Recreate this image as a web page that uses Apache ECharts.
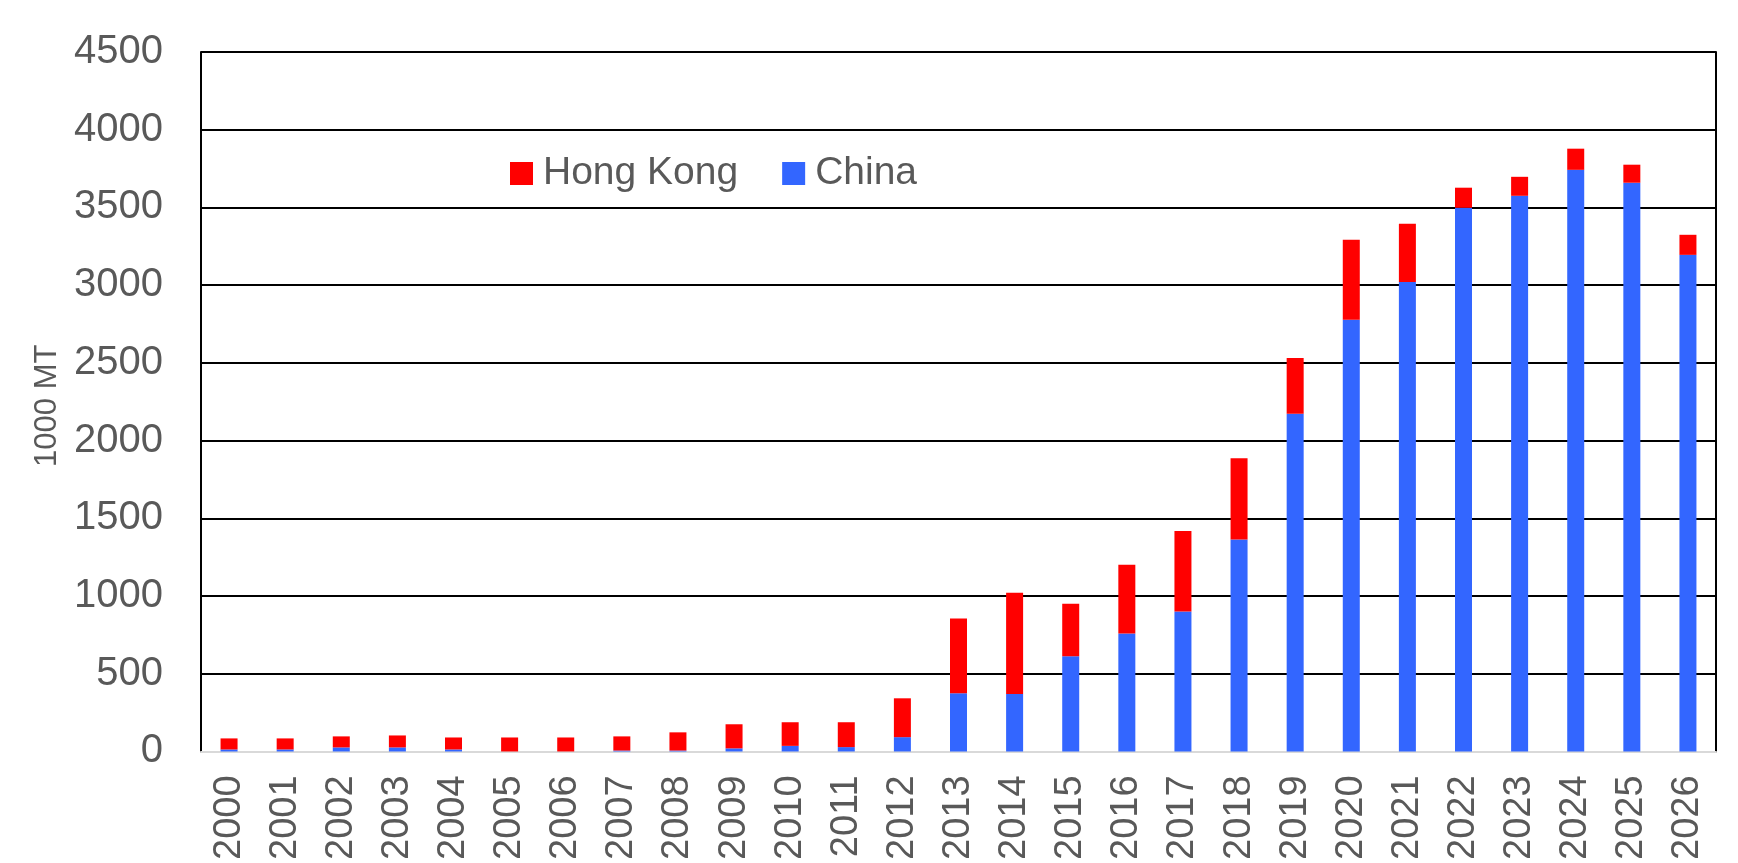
<!DOCTYPE html>
<html>
<head>
<meta charset="utf-8">
<script src="https://cdn.jsdelivr.net/npm/echarts@6/dist/echarts.min.js"></script>
<style>
  html, body { margin: 0; padding: 0; background: #fff; }
  #chart { width: 1738px; height: 863px; }
</style>
</head>
<body>
<div id="chart"></div>
<script>
const years = ['2000', '2001', '2002', '2003', '2004', '2005', '2006', '2007', '2008', '2009',
    '2010', '2011', '2012', '2013', '2014', '2015', '2016', '2017', '2018', '2019',
    '2020', '2021', '2022', '2023', '2024', '2025', '2026']
// values in 1000 MT
const china = [13, 13, 26, 26, 13, 0, 0, 6, 6, 20,
    36, 28, 92, 374, 370, 613, 759, 900, 1363, 2172,
    2777, 3021, 3498, 3575, 3742, 3659, 3195]
const hongKong = [71, 71, 71, 77, 77, 90, 90, 91, 117, 155,
    152, 160, 250, 481, 651, 338, 442, 519, 524, 360,
    515, 374, 129, 122, 136, 116, 129]

const font = 'Liberation Sans, Arial, sans-serif'
const grey = '#595959'

const chart = echarts.init(document.getElementById('chart'))
chart.setOption({
    backgroundColor: '#fff',
    animation: false,
    grid: { left: 201, right: 22, top: 52, bottom: 109 },
    legend: {
        data: ['Hong Kong', 'China'],
        left: 510,
        top: 154,
        padding: 0,
        itemWidth: 23,
        itemHeight: 23,
        itemGap: 44,
        icon: 'rect',
        textStyle: {
            fontFamily: font,
            fontSize: 39,
            lineHeight: 39,
            color: grey,
            padding: [0, 0, 0, 5]
        }
    },
    xAxis: {
        type: 'category',
        data: years,
        axisTick: { show: false },
        axisLine: { lineStyle: { color: '#d9d9d9', width: 2 } },
        axisLabel: {
            rotate: 90,
            interval: 0,
            margin: 24,
            fontFamily: font,
            fontSize: 38,
            color: grey
        }
    },
    yAxis: [
        {
            type: 'value',
            min: 0,
            max: 4500,
            interval: 500,
            name: '1000 MT',
            nameLocation: 'middle',
            nameRotate: 90,
            nameGap: 138,
            nameTextStyle: { fontFamily: font, fontSize: 31, color: grey, padding: [0, 8, 0, 0] },
            axisLine: { show: true, lineStyle: { color: '#000', width: 2 } },
            axisTick: { show: false },
            splitLine: { lineStyle: { color: '#000', width: 2 } },
            axisLabel: {
                margin: 38,
                fontFamily: font,
                fontSize: 40,
                color: grey,
                formatter: v => String(v)
            }
        },
        {
            type: 'value',
            position: 'right',
            min: 0,
            max: 4500,
            interval: 500,
            axisLine: { show: true, lineStyle: { color: '#000', width: 2 } },
            axisTick: { show: false },
            axisLabel: { show: false },
            splitLine: { show: false }
        }
    ],
    series: [
        {
            name: 'China',
            type: 'bar',
            stack: 'total',
            barWidth: 17,
            itemStyle: { color: '#3366ff' },
            data: china
        },
        {
            name: 'Hong Kong',
            type: 'bar',
            stack: 'total',
            barWidth: 17,
            itemStyle: { color: '#ff0000' },
            data: hongKong
        }
    ]
})
</script>
</body>
</html>
